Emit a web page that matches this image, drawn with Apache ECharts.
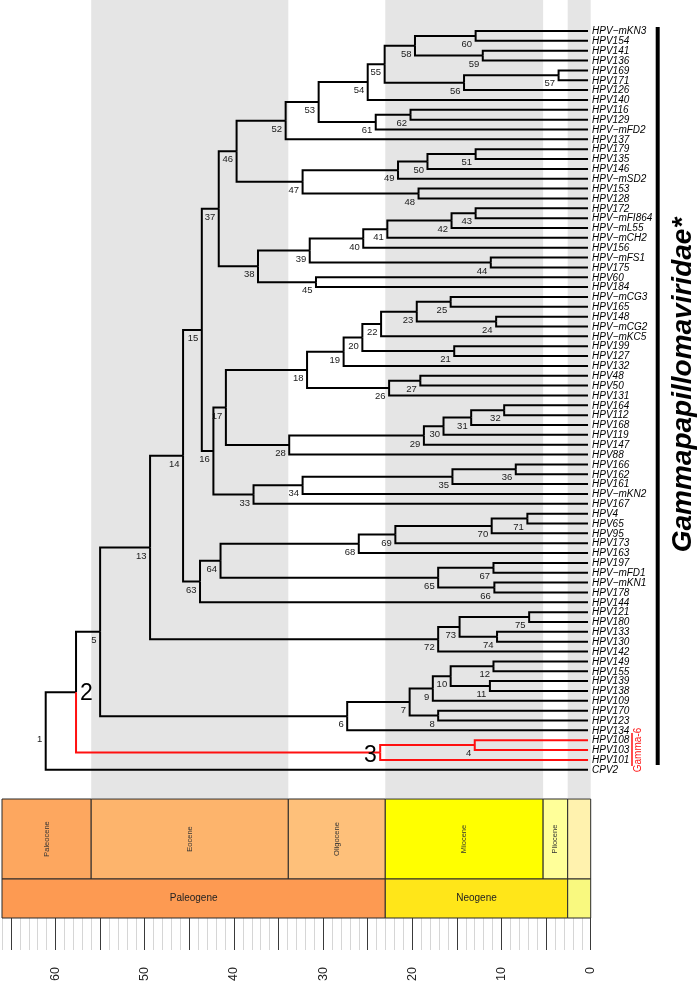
<!DOCTYPE html>
<html><head><meta charset="utf-8">
<script src="https://cdn.jsdelivr.net/npm/echarts@6/dist/echarts.min.js"></script>
<style>html,body{margin:0;padding:0;background:#fff}#c{width:697px;height:984px}</style>
</head><body><div id="c"></div>
<script>
// ---------------- DATA ----------------
const tipLabels = ['HPV−mKN3','HPV154','HPV141','HPV136','HPV169','HPV171','HPV126','HPV140','HPV116','HPV129','HPV−mFD2','HPV137','HPV179','HPV135','HPV146','HPV−mSD2','HPV153','HPV128','HPV172','HPV−mFI864','HPV−mL55','HPV−mCH2','HPV156','HPV−mFS1','HPV175','HPV60','HPV184','HPV−mCG3','HPV165','HPV148','HPV−mCG2','HPV−mKC5','HPV199','HPV127','HPV132','HPV48','HPV50','HPV131','HPV164','HPV112','HPV168','HPV119','HPV147','HPV88','HPV166','HPV162','HPV161','HPV−mKN2','HPV167','HPV4','HPV65','HPV95','HPV173','HPV163','HPV197','HPV−mFD1','HPV−mKN1','HPV178','HPV144','HPV121','HPV180','HPV133','HPV130','HPV142','HPV149','HPV155','HPV139','HPV138','HPV109','HPV170','HPV123','HPV134','HPV108','HPV103','HPV101','CPV2'];
const tipAge = 0.3;
// node ages (Mya), node id = index + 1
const nodeAges = [61.1,57.7,23.6,13.0,55.0,27.3,20.3,17.1,17.7,15.7,11.3,10.9,49.4,45.7,43.6,42.3,40.9,31.8,27.7,25.6,15.3,23.5,19.5,10.6,15.7,22.6,19.1,33.8,18.7,16.5,13.4,9.7,37.8,32.3,15.5,8.4,41.7,37.3,31.5,25.5,22.8,15.6,12.9,11.2,30.8,39.7,32.3,19.3,21.6,18.3,12.9,34.2,30.5,25.0,23.1,14.2,3.6,19.7,12.1,12.9,24.1,20.2,43.8,41.5,17.1,10.8,10.9,26.0,21.9,11.1,7.1,17.1,14.7,10.5,6.9];
// children of node id (index + 1): numbers are internal nodes, strings are tips
const nodeChildren = [
 [2,'CPV2'],[5,3],[4,'HPV101'],['HPV108','HPV103'],[13,6],[7,'HPV134'],[9,8],['HPV170','HPV123'],[10,'HPV109'],[12,11],
 ['HPV139','HPV138'],['HPV149','HPV155'],[14,72],[15,63],[37,16],[17,33],[18,28],[19,26],[20,'HPV132'],[22,21],
 ['HPV199','HPV127'],[23,'HPV−mKC5'],[25,24],['HPV148','HPV−mCG2'],['HPV−mCG3','HPV165'],[27,'HPV131'],['HPV48','HPV50'],[29,'HPV88'],[30,'HPV147'],[31,'HPV119'],
 [32,'HPV168'],['HPV164','HPV112'],[34,'HPV167'],[35,'HPV−mKN2'],[36,'HPV161'],['HPV166','HPV162'],[46,38],[39,45],[40,44],[41,'HPV156'],
 [42,'HPV−mCH2'],[43,'HPV−mL55'],['HPV172','HPV−mFI864'],['HPV−mFS1','HPV175'],['HPV60','HPV184'],[52,47],[49,48],['HPV153','HPV128'],[50,'HPV−mSD2'],[51,'HPV146'],
 ['HPV179','HPV135'],[53,'HPV137'],[54,61],[55,'HPV140'],[58,56],[57,'HPV126'],['HPV169','HPV171'],[60,59],['HPV141','HPV136'],['HPV−mKN3','HPV154'],
 [62,'HPV−mFD2'],['HPV116','HPV129'],[64,'HPV144'],[68,65],[67,66],['HPV−mKN1','HPV178'],['HPV197','HPV−mFD1'],[69,'HPV163'],[70,'HPV173'],[71,'HPV95'],
 ['HPV4','HPV65'],[73,'HPV142'],[75,74],['HPV133','HPV130'],['HPV121','HPV180']
];
const highlightedCladeRoot = 3;   // Gamma-6
const epochNames  = ['Paleocene','Eocene','Oligocene','Miocene','Pliocene','Pleistocene'];
const epochLabels = ['Paleocene','Eocene','Oligocene','Miocene','Pliocene',''];
const epochStart  = [66,56,33.9,23.03,5.333,2.58];
const epochEnd    = [56,33.9,23.03,5.333,2.58,0];
const shadedEpochs = ['Eocene','Miocene','Pleistocene'];
const periodNames  = ['Paleogene','Neogene','Quaternary'];
const periodLabels = ['Paleogene','Neogene',''];
const periodStart  = [66,23.03,2.58];
const periodEnd    = [23.03,2.58,0];
const axisTickLabels = [0,10,20,30,40,50,60];
const majorTickValues = [0,5,10,15,20,25,30,35,40,45,50,55,60,65];

// ---------------- STYLE ----------------
const FONT = '"Liberation Sans", Arial, Helvetica, sans-serif';
const epochColors = {Paleocene:'#FDA75F',Eocene:'#FDB46C',Oligocene:'#FEC07A',Miocene:'#FFFF00',Pliocene:'#FFFF99',Pleistocene:'#FFF2AE'};
const periodColors = {Paleogene:'#FD9A52',Neogene:'#FFE619',Quaternary:'#F9F97F'};
const treeYMin = -3.147, treeYMax = 77.87;
const GL = 2, GR = 106.3;

// ---------------- LAYOUT FROM DATA ----------------
const tipIndex = {}; tipLabels.forEach((l,i)=>tipIndex[l]=i);
const nodeY = {};
function yOf(c){ return typeof c === 'string' ? tipIndex[c] : nodeYOf(c); }
function nodeYOf(id){
  if (nodeY[id] !== undefined) return nodeY[id];
  const ch = nodeChildren[id-1];
  nodeY[id] = (yOf(ch[0]) + yOf(ch[ch.length-1]))/2;
  return nodeY[id];
}
function ageOf(c){ return typeof c === 'string' ? tipAge : nodeAges[c-1]; }
const redSet = new Set();
(function mark(id){ redSet.add(id); nodeChildren[id-1].forEach(c=>{ if(typeof c==='string') redSet.add(c); else mark(c); }); })(highlightedCladeRoot);

const edges = [];
nodeChildren.forEach((ch, i) => {
  const id = i+1;
  ch.forEach(c => edges.push([nodeAges[i], nodeYOf(id), ageOf(c), yOf(c), redSet.has(c)?1:0]));
});
const nodeLabelData = nodeAges.map((a,i)=>[a, nodeYOf(i+1), i+1]);
const tipData = tipLabels.map((l,i)=>[tipAge, i]);
const bandData = [];
epochNames.forEach((n,i)=>{ if (shadedEpochs.includes(n)) bandData.push([epochStart[i], epochEnd[i]]); });
const epochData = epochNames.map((n,i)=>[epochStart[i], epochEnd[i]]);
const periodData = periodNames.map((n,i)=>[periodStart[i], periodEnd[i]]);
const minorTickValues = []; for (let v=0; v<=66; v++) minorTickValues.push(v);

function rectBetween(a, b){
  return {x:Math.min(a[0],b[0]), y:Math.min(a[1],b[1]), width:Math.abs(b[0]-a[0]), height:Math.abs(b[1]-a[1])};
}

const chart = echarts.init(document.getElementById('c'), null, {renderer:'canvas', width:697, height:984});
const option = {
  animation:false,
  backgroundColor:'#fff',
  grid:[
    {left:GL, right:GR, top:0, height:798},
    {left:GL, right:GR, top:799, height:80},
    {left:GL, right:GR, top:879, height:39}
  ],
  xAxis:[
    {gridIndex:0, type:'value', min:0, max:66, inverse:true, show:false},
    {gridIndex:1, type:'value', min:0, max:66, inverse:true, show:false},
    {gridIndex:2, type:'value', min:0, max:66, inverse:true, position:'bottom',
      axisLine:{show:false}, splitLine:{show:false},
      axisTick:{show:true, customValues:minorTickValues, length:32, lineStyle:{color:'#d6d6d6', width:1}},
      axisLabel:{show:false}},
    {gridIndex:2, type:'value', min:0, max:66, inverse:true, position:'bottom',
      axisLine:{show:false}, splitLine:{show:false},
      axisTick:{show:true, customValues:majorTickValues, length:32, lineStyle:{color:'#3a3a3a', width:1}},
      axisLabel:{show:true, customValues:axisTickLabels, rotate:90, margin:49, fontSize:12.5, color:'#222', fontFamily:FONT}}
  ],
  yAxis:[
    {gridIndex:0, type:'value', min:treeYMin, max:treeYMax, inverse:true, show:false},
    {gridIndex:1, type:'value', min:0, max:1, show:false},
    {gridIndex:2, type:'value', min:0, max:1, show:false}
  ],
  series:[
    { // shaded epoch bands
      type:'custom', xAxisIndex:0, yAxisIndex:0, silent:true, clip:false, z:1, data:bandData,
      renderItem:(p, api)=>({type:'rect', shape:rectBetween(api.coord([api.value(0), treeYMin]), api.coord([api.value(1), treeYMax])), style:{fill:'#e5e5e5'}})
    },
    { // branches
      type:'custom', xAxisIndex:0, yAxisIndex:0, silent:true, clip:false, z:3, data:edges,
      renderItem:(p, api)=>{
        const p1 = api.coord([api.value(0), api.value(1)]);
        const p2 = api.coord([api.value(0), api.value(3)]);
        const p3 = api.coord([api.value(2), api.value(3)]);
        return {type:'polyline', shape:{points:[p1,p2,p3]}, style:{stroke: api.value(4) ? '#ff1010' : '#000', lineWidth:2, fill:null, lineJoin:'miter', lineCap:'butt'}};
      }
    },
    { // node labels
      type:'custom', xAxisIndex:0, yAxisIndex:0, silent:true, clip:false, z:4, data:nodeLabelData,
      renderItem:(p, api)=>{
        const c = api.coord([api.value(0), api.value(1)]);
        const id = api.value(2);
        if (id === 2) return {type:'text', x:c[0]+4, y:c[1]+2, style:{text:String(id), font:'23px '+FONT, fill:'#000', align:'left', textAlign:'left', verticalAlign:'middle', textVerticalAlign:'middle'}};
        if (id === 3) return {type:'text', x:c[0]-3.5, y:c[1]+3, style:{text:String(id), font:'23px '+FONT, fill:'#000', align:'right', textAlign:'right', verticalAlign:'middle', textVerticalAlign:'middle'}};
        return {type:'text', x:c[0]-3.5, y:c[1]+8.5, style:{text:String(id), font:'9.5px '+FONT, fill:'#1a1a1a', align:'right', textAlign:'right', verticalAlign:'middle', textVerticalAlign:'middle'}};
      }
    },
    { // tip labels
      type:'custom', xAxisIndex:0, yAxisIndex:0, silent:true, clip:false, z:4, data:tipData,
      renderItem:(p, api)=>{
        const c = api.coord([api.value(0), api.value(1)]);
        return {type:'text', x:c[0]+4, y:c[1]+0.5, style:{text:tipLabels[p.dataIndex], font:'italic 10px '+FONT, fill:'#000', align:'left', textAlign:'left', verticalAlign:'middle', textVerticalAlign:'middle'}};
      }
    },
    { // epochs
      type:'custom', xAxisIndex:1, yAxisIndex:1, silent:true, clip:false, z:2, data:epochData,
      renderItem:(p, api)=>{
        const r = rectBetween(api.coord([api.value(0), 1]), api.coord([api.value(1), 0]));
        const children = [{type:'rect', shape:r, style:{fill:epochColors[epochNames[p.dataIndex]], stroke:'#2a2a2a', lineWidth:1}}];
        const lab = epochLabels[p.dataIndex];
        if (lab) children.push({type:'text', x:r.x + r.width/2, y:r.y + r.height/2, rotation:Math.PI/2,
          style:{text:lab, font:'7.5px '+FONT, fill:'#333', align:'center', textAlign:'center', verticalAlign:'middle', textVerticalAlign:'middle'}});
        return {type:'group', children};
      }
    },
    { // periods
      type:'custom', xAxisIndex:2, yAxisIndex:2, silent:true, clip:false, z:2, data:periodData,
      renderItem:(p, api)=>{
        const r = rectBetween(api.coord([api.value(0), 1]), api.coord([api.value(1), 0]));
        const children = [{type:'rect', shape:r, style:{fill:periodColors[periodNames[p.dataIndex]], stroke:'#2a2a2a', lineWidth:1}}];
        const lab = periodLabels[p.dataIndex];
        if (lab) children.push({type:'text', x:r.x + r.width/2, y:r.y + r.height/2,
          style:{text:lab, font:'10px '+FONT, fill:'#222', align:'center', textAlign:'center', verticalAlign:'middle', textVerticalAlign:'middle'}});
        return {type:'group', children};
      }
    }
  ],
  graphic:[
    {type:'rect', z:10, shape:{x:655.7, y:27, width:4, height:738}, style:{fill:'#000'}},
    {type:'text', z:10, x:683, y:385, rotation:Math.PI/2,
      style:{text:'Gammapapillomaviridae*', font:'italic bold 28px '+FONT, fill:'#000', align:'center', textAlign:'center', verticalAlign:'middle', textVerticalAlign:'middle'}},
    {type:'line', z:10, shape:{x1:632, y1:733, x2:632, y2:766}, style:{stroke:'#ff1010', lineWidth:1.5}},
    {type:'text', z:10, x:638.5, y:750, rotation:Math.PI/2,
      style:{text:'Gamma-6', font:'10px '+FONT, fill:'#ff1010', align:'center', textAlign:'center', verticalAlign:'middle', textVerticalAlign:'middle'}}
  ]
};
chart.setOption(option);
</script>
</body></html>
